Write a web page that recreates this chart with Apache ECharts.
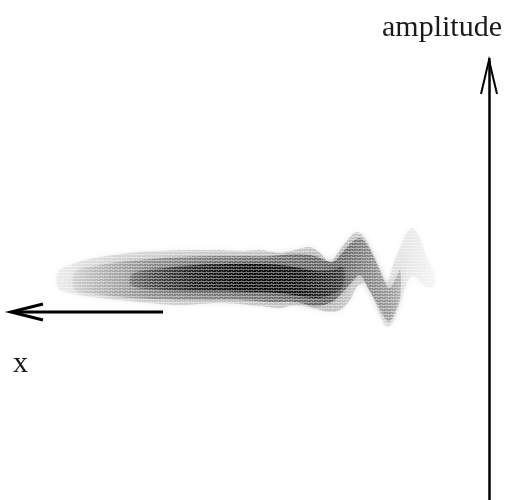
<!DOCTYPE html>
<html>
<head>
<meta charset="utf-8">
<script src="https://cdn.jsdelivr.net/npm/echarts@6/dist/echarts.min.js"></script>
<style>html,body{margin:0;padding:0;background:#fff;}#c{width:505px;height:500px;}</style>
</head>
<body>
<div id="c"></div>
<script>
// x position (increasing to the left), amplitude (up)
const outerX  = [42.9,41.7,40.2,38.7,36.7,34.7,32.7,30.7,28.7,26.7,24.7,22.7,20.7,19.2,17.7,16.7,15.7,14.7,13.7,13.0,12.2,11.5,10.7,10.0,9.4,8.7,8.0,7.4,6.7,6.0,5.3];
const outerHi = [4.0,4.7,5.2,5.5,5.8,6.0,6.1,6.2,6.2,6.2,6.1,6.2,5.9,6.2,6.5,5.9,5.0,6.2,7.5,8.0,7.4,6.0,4.4,3.0,4.7,6.4,8.0,8.4,7.4,5.4,4.0];
const outerLo = [2.4,1.9,1.6,1.4,1.2,1.0,0.8,0.7,0.8,0.9,0.8,0.6,0.4,0.7,0.5,0.2,0.0,0.2,1.2,2.5,2.9,1.7,-0.3,-1.5,-1.0,1.0,2.9,3.6,3.0,2.5,2.6];

const midX  = [41.2,39.2,36.7,33.7,30.7,27.7,24.7,21.7,19.2,17.2,15.5,14.4,13.5,12.7,11.9,11.1,10.4,9.8,9.2,8.7];
const midHi = [4.0,4.6,5.0,5.3,5.5,5.6,5.6,5.6,5.8,5.6,5.0,6.0,7.0,7.4,6.6,5.0,3.4,2.4,3.2,4.2];
const midLo = [2.2,1.8,1.5,1.3,1.2,1.2,1.2,1.0,1.0,0.6,1.0,2.0,3.0,3.7,2.4,1.0,-0.3,-1.0,0.0,1.4];

const coreX  = [35.5,32.2,29.2,26.2,23.2,20.7,18.7,16.9,15.4,14.4];
const coreHi = [3.8,4.4,4.7,4.8,4.8,4.7,4.4,4.1,4.2,4.5];
const coreLo = [2.6,2.2,2.1,2.1,2.0,1.9,1.6,1.4,1.8,2.6];

const xName = 'x';
const yName = 'amplitude';

function rows(xs, lo, hi) { return xs.map((x, i) => [x, lo[i], hi[i]]); }

function bandSeries(xs, lo, hi, fill, blur, shadow, z) {
  const data = rows(xs, lo, hi);
  return {
    type: 'custom',
    z: z,
    silent: true,
    encode: { x: 0, y: [1, 2] },
    data: data,
    renderItem: function (params, api) {
      if (params.dataIndex !== 0) return null;
      const up = data.map(r => api.coord([r[0], r[2]]));
      const dn = data.map(r => api.coord([r[0], r[1]])).reverse();
      return {
        type: 'polygon',
        shape: { points: up.concat(dn), smooth: 0.35 },
        style: { fill: fill, shadowBlur: blur, shadowColor: shadow }
      };
    }
  };
}

// fine horizontal grain, like the scanned stipple
const grain = document.createElement('canvas');
grain.width = 5; grain.height = 3;
(function () {
  const g = grain.getContext('2d');
  g.fillStyle = 'rgba(255,255,255,0.45)';
  g.fillRect(0, 2, 5, 1);
  g.fillStyle = 'rgba(255,255,255,0.35)';
  g.fillRect(3, 0, 1, 1);
  g.fillRect(1, 1, 1, 1);
})();

const chart = echarts.init(document.getElementById('c'), null, { renderer: 'canvas' });
const LG = echarts.graphic.LinearGradient;

chart.setOption({
  animation: false,
  backgroundColor: '#ffffff',
  grid: { left: 0, right: 16, top: 59, bottom: 0 },
  xAxis: {
    type: 'value', inverse: true, min: -0.2, max: 48.7, show: false
  },
  yAxis: {
    type: 'value', position: 'right', min: -18.8, max: 25.3,
    axisLine: { show: true, onZero: false, lineStyle: { color: '#000', width: 2.5 } },
    axisTick: { show: false }, axisLabel: { show: false }, splitLine: { show: false }
  },
  series: [
    bandSeries(outerX, outerLo, outerHi, new LG(0, 0, 1, 0, [
      { offset: 0, color: 'rgba(170,170,170,0.2)' },
      { offset: 0.15, color: 'rgba(160,160,160,0.38)' },
      { offset: 0.75, color: 'rgba(140,140,140,0.5)' },
      { offset: 0.88, color: 'rgba(160,160,160,0.32)' },
      { offset: 1, color: 'rgba(190,190,190,0.12)' }
    ]), 6, 'rgba(190,190,190,0.5)', 1),
    bandSeries(midX, midLo, midHi, new LG(0, 0, 1, 0, [
      { offset: 0, color: 'rgba(110,110,110,0.12)' },
      { offset: 0.25, color: 'rgba(80,80,80,0.45)' },
      { offset: 0.8, color: 'rgba(55,55,55,0.62)' },
      { offset: 1, color: 'rgba(100,100,100,0.35)' }
    ]), 6, 'rgba(100,100,100,0.5)', 2),
    bandSeries(coreX, coreLo, coreHi, new LG(0, 0, 1, 0, [
      { offset: 0, color: 'rgba(30,30,30,0.25)' },
      { offset: 0.3, color: 'rgba(15,15,15,0.75)' },
      { offset: 0.55, color: 'rgba(5,5,5,0.92)' },
      { offset: 0.8, color: 'rgba(10,10,10,0.85)' },
      { offset: 1, color: 'rgba(30,30,30,0.5)' }
    ]), 6, 'rgba(30,30,30,0.6)', 3),
    bandSeries(outerX, outerLo, outerHi, { image: grain, repeat: 'repeat' }, 0, 'rgba(0,0,0,0)', 4)
  ],
  graphic: [
    { type: 'polyline', z: 10, shape: { points: [[481, 94], [489, 60], [497, 94]] },
      style: { stroke: '#000', lineWidth: 2, fill: null } },
    { type: 'line', z: 10, shape: { x1: 163, y1: 312, x2: 12, y2: 312 },
      style: { stroke: '#000', lineWidth: 3 } },
    { type: 'polyline', z: 10, shape: { points: [[43, 304], [11, 312], [43, 320]] },
      style: { stroke: '#000', lineWidth: 3, fill: null } },
    { type: 'text', z: 10, x: 382, y: 28,
      style: { text: yName, font: '30px "Liberation Serif", "DejaVu Serif", serif', fill: '#1a1a1a', verticalAlign: 'middle', align: 'left' } },
    { type: 'text', z: 10, x: 13, y: 364,
      style: { text: xName, font: '30px "Liberation Serif", "DejaVu Serif", serif', fill: '#1a1a1a', verticalAlign: 'middle', align: 'left' } }
  ]
});
</script>
</body>
</html>
